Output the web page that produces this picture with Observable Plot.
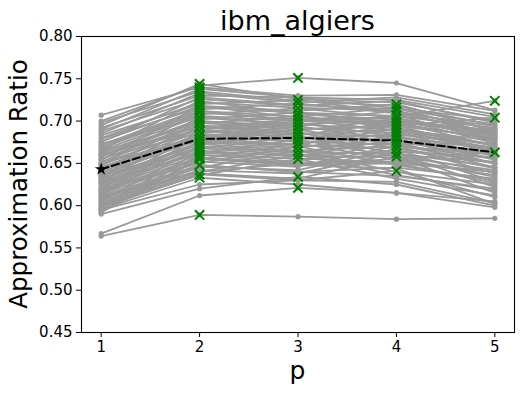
<!DOCTYPE html>
<html>
<head>
<meta charset="utf-8">
<script src="https://cdn.jsdelivr.net/npm/d3@7"></script>
<script src="https://cdn.jsdelivr.net/npm/@observablehq/plot@0.6"></script>
<style>
  html, body { margin: 0; padding: 0; background: #fff; }
  #chart { width: 532px; height: 394px; }
</style>
</head>
<body>
<div id="chart"></div>
<script>
const titleText = "ibm_algiers";
const xLabel = "p";
const yLabel = "Approximation Ratio";
const pSteps = [1, 2, 3, 4, 5];
const yTicks = [0.45, 0.50, 0.55, 0.60, 0.65, 0.70, 0.75, 0.80];

// approximation ratio of each problem instance at each depth p
const ratioP1 = [0.700,0.695,0.707,0.690,0.698,0.685,0.692,0.688,0.680,0.683,
  0.676,0.679,0.672,0.670,0.668,0.665,0.662,0.673,0.660,0.658,
  0.664,0.655,0.652,0.660,0.648,0.650,0.645,0.656,0.642,0.640,
  0.646,0.638,0.636,0.644,0.632,0.630,0.635,0.628,0.626,0.633,
  0.624,0.622,0.627,0.620,0.618,0.616,0.614,0.612,0.619,0.610,
  0.608,0.606,0.604,0.602,0.600,0.598,0.596,0.595,0.590,0.567,
  0.564,0.660,0.650,0.610,0.592,0.594,0.675,0.666,0.654,0.648,
  0.640,0.634,0.628,0.620,0.615,0.612,0.605,0.600,0.597,0.593];
const ratioP2 = [0.742,0.744,0.740,0.738,0.735,0.733,0.730,0.726,0.722,0.720,
  0.718,0.716,0.714,0.712,0.710,0.708,0.706,0.704,0.702,0.700,
  0.698,0.697,0.695,0.693,0.692,0.690,0.688,0.686,0.685,0.683,
  0.681,0.680,0.678,0.677,0.675,0.673,0.672,0.670,0.668,0.667,
  0.665,0.663,0.662,0.660,0.657,0.655,0.652,0.648,0.650,0.646,
  0.645,0.642,0.640,0.638,0.636,0.637,0.633,0.625,0.620,0.612,
  0.589,0.690,0.680,0.640,0.657,0.648,0.728,0.724,0.718,0.712,
  0.705,0.700,0.694,0.688,0.682,0.676,0.670,0.664,0.660,0.655];
const ratioP3 = [0.751,0.726,0.730,0.728,0.724,0.722,0.728,0.718,0.716,0.725,
  0.712,0.710,0.721,0.705,0.702,0.715,0.700,0.696,0.710,0.694,
  0.690,0.706,0.688,0.684,0.702,0.683,0.680,0.698,0.678,0.675,
  0.694,0.672,0.670,0.690,0.668,0.665,0.686,0.662,0.660,0.682,
  0.658,0.655,0.678,0.652,0.650,0.674,0.646,0.640,0.670,0.642,
  0.665,0.638,0.660,0.632,0.655,0.630,0.625,0.630,0.634,0.621,
  0.587,0.700,0.690,0.650,0.648,0.640,0.719,0.708,0.704,0.700,
  0.696,0.692,0.686,0.681,0.676,0.671,0.664,0.659,0.656,0.648];
const ratioP4 = [0.745,0.722,0.731,0.725,0.718,0.728,0.715,0.724,0.712,0.710,
  0.720,0.706,0.709,0.716,0.698,0.704,0.712,0.701,0.698,0.707,
  0.694,0.692,0.703,0.690,0.688,0.699,0.684,0.682,0.695,0.680,
  0.678,0.691,0.674,0.672,0.687,0.670,0.668,0.683,0.664,0.662,
  0.679,0.660,0.658,0.675,0.652,0.654,0.671,0.645,0.648,0.667,
  0.640,0.662,0.636,0.658,0.632,0.628,0.615,0.641,0.625,0.615,
  0.584,0.705,0.695,0.655,0.650,0.635,0.714,0.702,0.700,0.696,
  0.690,0.686,0.681,0.677,0.672,0.668,0.661,0.657,0.650,0.644];
const ratioP5 = [0.713,0.700,0.712,0.705,0.695,0.708,0.702,0.698,0.690,0.694,
  0.688,0.692,0.686,0.684,0.690,0.680,0.682,0.685,0.678,0.676,
  0.681,0.672,0.674,0.677,0.668,0.670,0.673,0.666,0.664,0.669,
  0.660,0.662,0.665,0.655,0.658,0.661,0.650,0.654,0.657,0.646,
  0.650,0.652,0.642,0.645,0.640,0.636,0.638,0.632,0.630,0.628,
  0.625,0.622,0.618,0.615,0.612,0.603,0.605,0.610,0.600,0.598,
  0.585,0.724,0.704,0.663,0.640,0.620,0.696,0.688,0.683,0.679,
  0.671,0.667,0.661,0.656,0.650,0.644,0.639,0.634,0.627,0.602];
// mean approximation ratio (dashed line)
const meanRatio = [0.643, 0.679, 0.680, 0.677, 0.663];

const series = [ratioP1, ratioP2, ratioP3, ratioP4, ratioP5];
const lineRows = ratioP1.flatMap((_, i) => pSteps.map((p, j) => ({id: i, p, r: series[j][i]})));
const bestRows = ratioP1.map((_, i) => {
  const j = d3.maxIndex(series, s => s[i]);
  return {p: pSteps[j], r: series[j][i]};
});
const meanRows = pSteps.map((p, j) => ({p, r: meanRatio[j]}));

const W = 532, H = 394;
const mL = 81, mR = 18, mT = 36, mB = 62;

const chart = Plot.plot({
  width: W, height: H,
  marginLeft: mL, marginRight: mR, marginTop: mT, marginBottom: mB,
  style: {fontFamily: "DejaVu Sans", fontSize: "15px", color: "black", background: "white"},
  x: {domain: [0.8, 5.2]},
  y: {domain: [0.45, 0.80]},
  marks: [
    Plot.lineY(lineRows, {x: "p", y: "r", z: "id", stroke: "#999999", strokeWidth: 1.8}),
    Plot.dot(lineRows, {x: "p", y: "r", r: 2.6, fill: "#999999"}),
    Plot.line(meanRows, {x: "p", y: "r", stroke: "black", strokeWidth: 2, strokeDasharray: "7.5,3.5"}),
    Plot.dot(meanRows.slice(0, 1), {x: "p", y: "r", symbol: "star", fill: "black", r: 4}),
    Plot.dot(bestRows, {x: "p", y: "r", symbol: "times", stroke: "green", strokeWidth: 2, r: 4.3}),
    Plot.frame({stroke: "black", strokeWidth: 1.1}),
    Plot.axisX({ticks: pSteps, tickFormat: "d", tickSize: 5, tickPadding: 4, fontSize: 15, label: null, stroke: "black"}),
    Plot.axisY({ticks: yTicks, tickFormat: ".2f", tickSize: 5, tickPadding: 4, fontSize: 15, label: null, stroke: "black"})
  ]
});

const svg = d3.select(chart);
svg.append("text")
  .attr("x", (mL + W - mR) / 2).attr("y", 30)
  .attr("text-anchor", "middle")
  .style("font-family", "DejaVu Sans").style("font-size", "27px").attr("fill", "black")
  .text(titleText);
svg.append("text")
  .attr("x", (mL + W - mR) / 2).attr("y", 379)
  .attr("text-anchor", "middle")
  .style("font-family", "DejaVu Sans").style("font-size", "25px").attr("fill", "black")
  .text(xLabel);
svg.append("text")
  .attr("transform", `translate(27,${(mT + H - mB) / 2}) rotate(-90)`)
  .attr("text-anchor", "middle")
  .style("font-family", "DejaVu Sans").style("font-size", "24.5px").attr("fill", "black")
  .text(yLabel);

document.getElementById("chart").appendChild(chart);
</script>
</body>
</html>
